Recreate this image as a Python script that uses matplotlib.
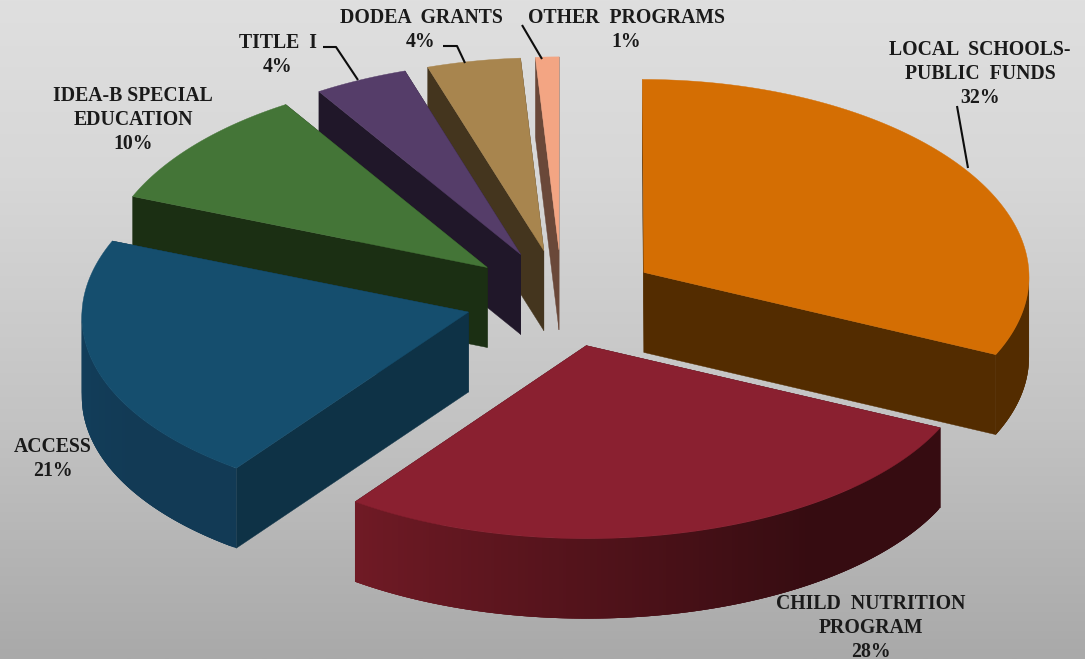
import numpy as np
import matplotlib
matplotlib.use("Agg")
import matplotlib.pyplot as plt
from matplotlib.colors import LinearSegmentedColormap, to_rgb
from matplotlib.patches import Polygon

# funding shares, clockwise from twelve o'clock
categories = ["LOCAL  SCHOOLS-\nPUBLIC  FUNDS", "CHILD  NUTRITION\nPROGRAM", "ACCESS",
              "IDEA-B SPECIAL\nEDUCATION", "TITLE  I", "DODEA  GRANTS", "OTHER  PROGRAMS"]
shares = [32, 28, 21, 10, 4, 4, 1]

top_colors = ["#D46E03", "#8A2030", "#154E6E", "#447537", "#553D69", "#A8854E", "#F3A583"]
wall_colors = ["#532C00", "#380D13", "#0E3246", "#1B2F13", "#201729", "#44351E", "#6A4839"]
# rim shade at the clockwise end and at the start of each slice
rim_start = ["#532C00", "#360C11", "#123A55", "#1B2F13", "#201729", "#44351E", "#6A4839"]
rim_end = ["#532C00", "#701A25", "#134260", "#1B2F13", "#201729", "#44351E", "#6A4839"]

label_x = [980, 871, 53, 133, 278, 421, 626]
label_y = [74, 628, 459, 120, 55, 30, 30]

leaders = [
    [(957, 106), (968, 168)],
    [(323, 47), (336, 47), (358, 80)],
    [(443, 46), (457, 46), (465, 63)],
    [(522, 25), (542, 59)],
]

# pie geometry in pixels
cx, cy = 562, 298.5
rx, ry = 386, 193
explode = 0.252
depth = 80
persp = 0.0001  # far side of the pie is drawn a little narrower
draw_order = [6, 5, 4, 3, 2, 0, 1]

fig = plt.figure(figsize=(10.85, 6.59), dpi=100)
ax = fig.add_axes([0, 0, 1, 1])
ax.set_xlim(0, 1085)
ax.set_ylim(659, 0)
ax.axis("off")

# light-to-dark backdrop
bg = LinearSegmentedColormap.from_list("bg", [(0, "#DFDFDF"), (0.27, "#D7D7D7"), (0.64, "#C3C3C3"), (1, "#A9A9A9")])
ramp = np.linspace(0, 1, 256).reshape(-1, 1)
ax.imshow(ramp, cmap=bg, extent=[0, 1085, 659, 0], aspect="auto", zorder=0)


def warp(x, y):
    return cx + (x - cx) * (1 + persp * (y - cy)), y


def rim_point(tip, deg):
    t = np.radians(deg)
    return warp(tip[0] + rx * np.sin(t), tip[1] - ry * np.cos(t))


angles = np.cumsum([0] + shares) * 3.6
for z, i in enumerate(draw_order):
    a0, a1 = angles[i], angles[i + 1]
    mid = np.radians((a0 + a1) / 2)
    raw_tip = (cx + explode * rx * np.sin(mid), cy - explode * ry * np.cos(mid))
    tip = warp(*raw_tip)
    zbase = 1 + z

    # flat radial walls first, the top and rim paint over the hidden ones
    for a in (a1, a0):
        p = rim_point(raw_tip, a)
        wall = [tip, p, (p[0], p[1] + depth), (tip[0], tip[1] + depth)]
        ax.add_patch(Polygon(wall, closed=True, fc=wall_colors[i], ec=wall_colors[i], lw=0.3, zorder=zbase))

    # curved rim, only the front half of the ellipse can be seen
    lo, hi = max(a0, 90), min(a1, 270)
    if hi > lo:
        steps = np.linspace(lo, hi, int(hi - lo) * 2 + 2)
        c0, c1 = np.array(to_rgb(rim_start[i])), np.array(to_rgb(rim_end[i]))
        for s0, s1 in zip(steps[:-1], steps[1:]):
            f = np.clip(((s0 - a0) / (a1 - a0) - 0.3) / 0.7, 0, 1)
            col = c0 + (c1 - c0) * f
            # each strip runs under the next one so no seams show
            p0, p1 = rim_point(raw_tip, s0), rim_point(raw_tip, min(s1 + 1, hi))
            strip = [p0, p1, (p1[0], p1[1] + depth), (p0[0], p0[1] + depth)]
            ax.add_patch(Polygon(strip, closed=True, fc=col, ec="none", zorder=zbase + 0.1))

    # top face
    arc = np.linspace(a0, a1, 200)
    pts = [tip] + [rim_point(raw_tip, a) for a in arc]
    ax.add_patch(Polygon(pts, closed=True, fc=top_colors[i], ec=top_colors[i], lw=0.3, zorder=zbase + 0.2))

# leader lines
for line in leaders:
    xs, ys = zip(*line)
    ax.plot(xs, ys, color="#0D0D0D", lw=1.5, solid_capstyle="butt", zorder=20)

# labels with name and share
for name, v, x, y in zip(categories, shares, label_x, label_y):
    ax.text(x, y, f"{name}\n{v}%", ha="center", va="center", multialignment="center",
            family="Liberation Serif", weight="bold", fontsize=14.2, color="#1A1A1A",
            linespacing=1.27, zorder=21)

fig.savefig("out.png", dpi=100)
